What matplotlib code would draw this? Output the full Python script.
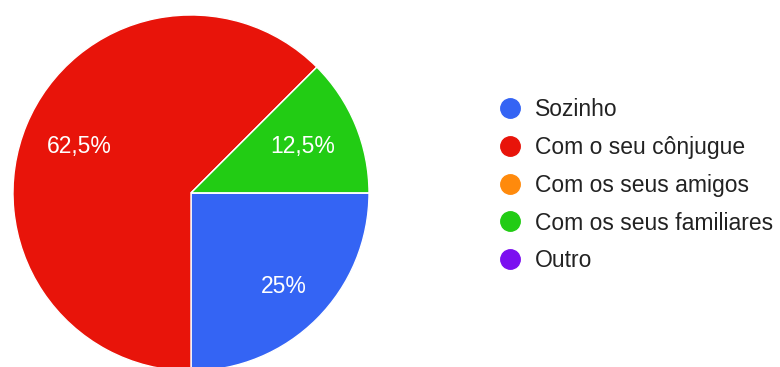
import matplotlib
matplotlib.use('Agg')
import matplotlib.pyplot as plt
from matplotlib.lines import Line2D

plt.rcParams['font.family'] = ['Liberation Sans', 'DejaVu Sans']

# respostas: com quem viaja
categorias = ['Sozinho', 'Com o seu cônjugue', 'Com os seus amigos',
              'Com os seus familiares', 'Outro']
percentuais = [25, 62.5, 0, 12.5, 0]
cores = ['#3464f4', '#e8140a', '#ff8a0c', '#22cc14', '#7b0ff0']

def fmt_pct(p):
    if p <= 0:
        return ''
    s = ('%.1f' % p).rstrip('0').rstrip('.')
    return s.replace('.', ',') + '%'

fig = plt.figure(figsize=(7.8, 3.67), dpi=100)
ax = fig.add_axes([13 / 780, -4 / 367, 356 / 780, 356 / 367])

wedges, textos, autotextos = ax.pie(
    percentuais, colors=cores, startangle=0, counterclock=False,
    autopct=fmt_pct, pctdistance=0.68, radius=1,
    wedgeprops=dict(edgecolor='white', linewidth=1.0),
    textprops=dict(color='white', fontsize=16.5))

# fatia pequena de baixo fica com o rotulo um pouco mais para fora
for t, p in zip(autotextos, percentuais):
    if p == 25:
        x, y = t.get_position()
        t.set_position((x * 0.74 / 0.68, y * 0.74 / 0.68))

ax.set_xlim(-1, 1)
ax.set_ylim(-1, 1)
ax.set_aspect('equal')
ax.axis('off')

handles = [Line2D([], [], linestyle='none', marker='o', markersize=14,
                  markerfacecolor=c, markeredgecolor=c) for c in cores]
leg = fig.legend(handles, categorias, loc='upper left',
                 bbox_to_anchor=(498.5 / 780, 1 - 98.5 / 367),
                 frameon=False, fontsize=16.5, handlelength=1.0,
                 handletextpad=0.59, labelspacing=0.64,
                 borderpad=0, borderaxespad=0)
for t in leg.get_texts():
    t.set_color('#222222')

fig.savefig('out.png', dpi=100)
